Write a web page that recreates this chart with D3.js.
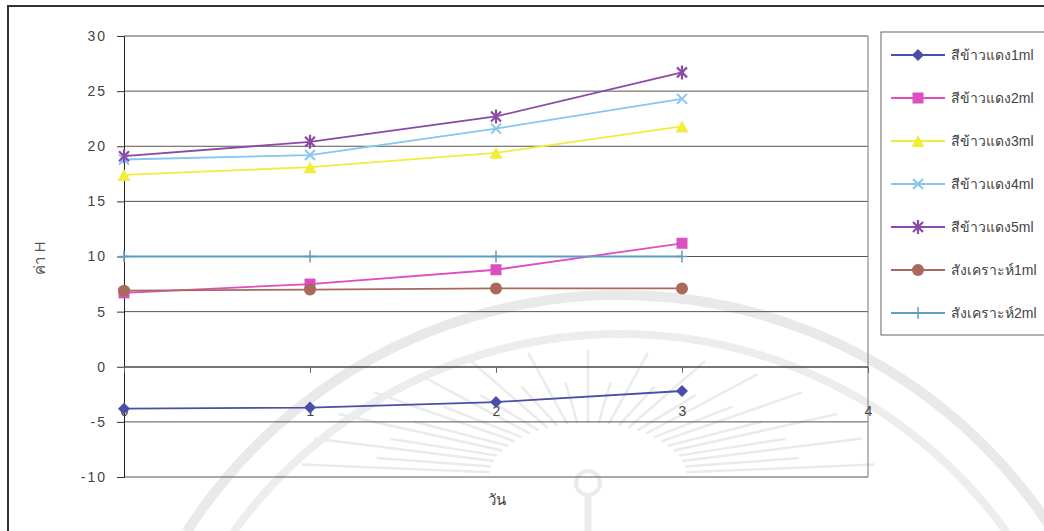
<!DOCTYPE html>
<html>
<head>
<meta charset="utf-8">
<script src="https://cdn.jsdelivr.net/npm/d3@7"></script>
<style>
  html, body { margin: 0; padding: 0; background: #fff; }
  svg { display: block; }
  text { font-family: "Liberation Sans", Arial, sans-serif; }
</style>
</head>
<body>
<svg id="chart" width="1044" height="531"></svg>
<script>
// Days on the x axis
const days = [0, 1, 2, 3];
const xTicks = [0, 1, 2, 3, 4];
const yTicks = [-10, -5, 0, 5, 10, 15, 20, 25, 30];

// Series names (legend order)
const seriesNames = [
  "สีข้าวแดง1ml", "สีข้าวแดง2ml", "สีข้าวแดง3ml", "สีข้าวแดง4ml",
  "สีข้าวแดง5ml", "สังเคราะห์1ml", "สังเคราะห์2ml"
];

// H values per day for each series
const red1 = [-3.8, -3.7, -3.2, -2.2];
const red2 = [6.7, 7.5, 8.8, 11.2];
const red3 = [17.4, 18.1, 19.4, 21.8];
const red4 = [18.8, 19.2, 21.6, 24.3];
const red5 = [19.1, 20.4, 22.7, 26.7];
const synth1 = [6.9, 7.0, 7.1, 7.1];
const synth2 = [10.0, 10.0, 10.0, 10.0];

const seriesValues = [red1, red2, red3, red4, red5, synth1, synth2];
const seriesColors = ["#4a4ea6", "#dd4fc0", "#f2ec3a", "#86c6f2", "#8a4aa6", "#a8695c", "#5f9cc2"];
const seriesMarkers = ["diamond", "square", "triangle", "cross", "star", "circle", "plus"];

const svg = d3.select("#chart");

// faint seal in the background
const wm = svg.append("g").attr("fill", "none").attr("stroke", "#ebebeb");
const arc = d3.arc();
wm.append("path")
  .attr("transform", "translate(620,810)")
  .attr("d", arc({innerRadius: 510, outerRadius: 520, startAngle: -1.0, endAngle: 1.2}))
  .attr("fill", "#e9e9e9").attr("stroke", "none");
wm.append("path")
  .attr("transform", "translate(620,810)")
  .attr("d", arc({innerRadius: 472, outerRadius: 480, startAngle: -0.95, endAngle: 1.15}))
  .attr("fill", "#ededed").attr("stroke", "none");
const rayCenter = [588, 478];
d3.range(-84, 85, 6).forEach(deg => {
  const a = (deg - 90) * Math.PI / 180;
  const r0 = 55, r1 = 120 + (Math.abs(deg) % 12 === 0 ? 40 : 0);
  wm.append("line")
    .attr("x1", rayCenter[0] + 1.8 * r0 * Math.cos(a)).attr("y1", rayCenter[1] + r0 * Math.sin(a))
    .attr("x2", rayCenter[0] + 1.8 * r1 * Math.cos(a)).attr("y2", rayCenter[1] + 0.8 * r1 * Math.sin(a))
    .attr("stroke-width", 2.5);
});
wm.append("circle").attr("cx", 588).attr("cy", 483).attr("r", 12).attr("stroke-width", 4);
wm.append("line").attr("x1", 588).attr("y1", 495).attr("x2", 588).attr("y2", 531).attr("stroke-width", 7);

// outer frame
svg.append("rect")
  .attr("x", 8).attr("y", 6).attr("width", 1060).attr("height", 560)
  .attr("fill", "none").attr("stroke", "#333").attr("stroke-width", 2);

const plot = { left: 124, right: 868, top: 36, bottom: 477 };

const x = d3.scaleLinear().domain([0, 4]).range([plot.left, plot.right]);
const y = d3.scaleLinear().domain([-10, 30]).range([plot.bottom, plot.top]);

// horizontal gridlines
svg.append("g")
  .selectAll("line")
  .data(yTicks)
  .join("line")
  .attr("x1", plot.left).attr("x2", plot.right)
  .attr("y1", d => y(d)).attr("y2", d => y(d))
  .attr("stroke", "#555").attr("stroke-width", 1);

// plot border on the right
svg.append("line")
  .attr("x1", plot.right).attr("x2", plot.right)
  .attr("y1", plot.top).attr("y2", plot.bottom)
  .attr("stroke", "#777").attr("stroke-width", 1);

// y axis
const yAxis = d3.axisLeft(y).tickValues(yTicks).tickSize(7).tickPadding(10)
  .tickFormat(d => String(d));
const yG = svg.append("g").attr("transform", `translate(${plot.left},0)`).call(yAxis);
yG.select(".domain").attr("stroke", "#222");
yG.selectAll(".tick line").attr("stroke", "#333");
yG.selectAll(".tick text")
  .attr("font-size", 14).attr("fill", "#444")
  .attr("letter-spacing", "2px")
  .attr("font-family", "'Liberation Sans', Arial, sans-serif");

// x axis on the zero line, labels set lower
const xAxis = d3.axisBottom(x).tickValues(xTicks).tickSize(6).tickPadding(33)
  .tickFormat(d3.format("d"));
const xG = svg.append("g").attr("transform", `translate(0,${y(0)})`).call(xAxis);
xG.select(".domain").attr("stroke", "#555");
xG.selectAll(".tick line").attr("stroke", "#666");
xG.selectAll(".tick text")
  .attr("font-size", 14).attr("fill", "#444")
  .attr("font-family", "'Liberation Sans', Arial, sans-serif");

// axis titles
svg.append("text")
  .attr("transform", "translate(45,258) rotate(-90)")
  .attr("text-anchor", "middle")
  .attr("font-size", 15).attr("fill", "#555")
  .text("ค่า H");
svg.append("text")
  .attr("x", 497).attr("y", 505)
  .attr("text-anchor", "middle")
  .attr("font-size", 15).attr("fill", "#444")
  .text("วัน");

// marker shapes
function drawMarker(g, type, color, cx, cy) {
  switch (type) {
    case "diamond":
      g.append("path").attr("d", `M${cx},${cy - 6}L${cx + 6},${cy}L${cx},${cy + 6}L${cx - 6},${cy}Z`).attr("fill", color);
      break;
    case "square":
      g.append("rect").attr("x", cx - 5.5).attr("y", cy - 5.5).attr("width", 11).attr("height", 11).attr("fill", color);
      break;
    case "triangle":
      g.append("path").attr("d", `M${cx},${cy - 6}L${cx + 6.5},${cy + 6}L${cx - 6.5},${cy + 6}Z`).attr("fill", color);
      break;
    case "cross":
      g.append("path").attr("d", `M${cx - 5},${cy - 5}L${cx + 5},${cy + 5}M${cx + 5},${cy - 5}L${cx - 5},${cy + 5}`)
        .attr("stroke", color).attr("stroke-width", 2);
      break;
    case "star":
      g.append("path").attr("d", `M${cx - 5},${cy - 5}L${cx + 5},${cy + 5}M${cx + 5},${cy - 5}L${cx - 5},${cy + 5}M${cx},${cy - 7}L${cx},${cy + 7}`)
        .attr("stroke", color).attr("stroke-width", 2.2);
      break;
    case "circle":
      g.append("circle").attr("cx", cx).attr("cy", cy).attr("r", 6).attr("fill", color);
      break;
    case "plus":
      g.append("path").attr("d", `M${cx},${cy - 6}L${cx},${cy + 6}M${cx - 5},${cy}L${cx + 5},${cy}`)
        .attr("stroke", color).attr("stroke-width", 1.5);
      break;
  }
}

// series lines and markers
const line = d3.line().x((d, i) => x(days[i])).y(d => y(d));
const seriesG = svg.append("g");
seriesValues.forEach((vals, si) => {
  const g = seriesG.append("g");
  g.append("path")
    .attr("d", line(vals))
    .attr("fill", "none")
    .attr("stroke", seriesColors[si])
    .attr("stroke-width", 1.8);
  vals.forEach((v, i) => drawMarker(g, seriesMarkers[si], seriesColors[si], x(days[i]), y(v)));
});

// legend
svg.append("rect")
  .attr("x", 881).attr("y", 32).attr("width", 200).attr("height", 303)
  .attr("fill", "#fff").attr("stroke", "#666").attr("stroke-width", 1);
const legendY = d3.scalePoint().domain(seriesNames).range([55, 313]);
seriesNames.forEach((name, si) => {
  const ly = legendY(name);
  const g = svg.append("g");
  g.append("line").attr("x1", 891).attr("x2", 945).attr("y1", ly).attr("y2", ly)
    .attr("stroke", seriesColors[si]).attr("stroke-width", 1.8);
  drawMarker(g, seriesMarkers[si], seriesColors[si], 918, ly);
  g.append("text").attr("x", 951).attr("y", ly + 5)
    .attr("font-size", 14).attr("fill", "#444")
    .text(name);
});
</script>
</body>
</html>
